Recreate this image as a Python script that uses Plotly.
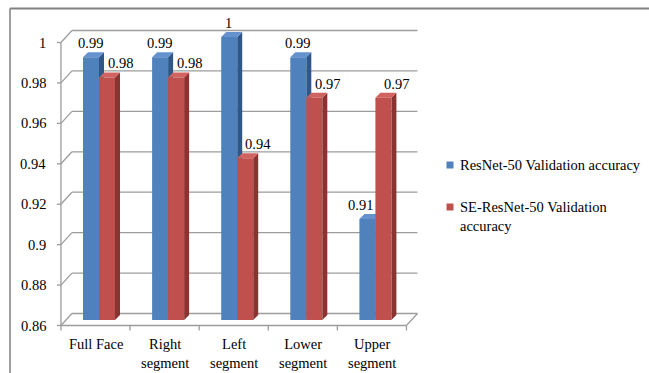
import plotly.graph_objects as go

# ---- data ----
categories = ["Full Face", "Right<br>segment", "Left<br>segment", "Lower<br>segment", "Upper<br>segment"]
series_names = ["ResNet-50 Validation accuracy", "SE-ResNet-50 Validation<br>accuracy"]
resnet_vals = [0.99, 0.99, 1.0, 0.99, 0.91]
se_resnet_vals = [0.98, 0.98, 0.94, 0.97, 0.97]
y_ticks = [0.86, 0.88, 0.90, 0.92, 0.94, 0.96, 0.98, 1.0]
y_tick_labels = ["0.86", "0.88", "0.9", "0.92", "0.94", "0.96", "0.98", "1"]
y_base = 0.86

# ---- geometry / style ----
W, H = 649, 373
XS = 69.1      # px per category
YS = 2021.4    # px per unit of accuracy
X0PX, Y0PX = 99.0, 320.0   # px position of category 0 centre / base value (bar plane)
xr = [(0 - X0PX) / XS, (W - X0PX) / XS]
yr = [y_base + (Y0PX - H) / YS, y_base + Y0PX / YS]

FX = -3.5 / XS   # front plane x offset
FY = -5.5 / YS   # front plane y offset
BX = 7.5 / XS    # back plane x offset
BY = 6.5 / YS    # back plane y offset
DX = 5.0 / XS    # bar depth
DY = 5.0 / YS
BW = 16.0 / XS   # bar width

FONT = "Liberation Serif"
FS = 14.5
GRID = "#9c9c9c"
n = len(categories)

blue = dict(front="#4f81bd", top="#6592cf", side="#2f5788")
red = dict(front="#c0504d", top="#d0625f", side="#8a3432")

shapes = []
# back wall gridlines and left diagonals
for v in y_ticks:
    shapes.append(dict(type="line", xref="x", yref="y", layer="below",
                       x0=-0.5 + BX, x1=n - 0.5 + BX, y0=v + BY, y1=v + BY,
                       line=dict(color=GRID, width=1.3)))
    shapes.append(dict(type="line", xref="x", yref="y", layer="below",
                       x0=-0.5 + FX, x1=-0.5 + BX, y0=v + FY, y1=v + BY,
                       line=dict(color=GRID, width=1.3)))
    shapes.append(dict(type="line", xref="x", yref="y", layer="below",
                       x0=-0.5 + FX - 4 / XS, x1=-0.5 + FX, y0=v + FY, y1=v + FY,
                       line=dict(color=GRID, width=1.3)))
# front y axis line
shapes.append(dict(type="line", xref="x", yref="y", layer="below",
                   x0=-0.5 + FX, x1=-0.5 + FX, y0=y_ticks[0] + FY, y1=y_ticks[-1] + FY,
                   line=dict(color=GRID, width=1.3)))
# floor front line and right diagonal
shapes.append(dict(type="line", xref="x", yref="y", layer="below",
                   x0=-0.5 + FX, x1=n - 0.5 + FX, y0=y_base + FY, y1=y_base + FY,
                   line=dict(color=GRID, width=1.3)))
shapes.append(dict(type="line", xref="x", yref="y", layer="below",
                   x0=n - 0.5 + FX, x1=n - 0.5 + BX, y0=y_base + FY, y1=y_base + BY,
                   line=dict(color=GRID, width=1.3)))
# x tick marks
for i in range(n + 1):
    shapes.append(dict(type="line", xref="x", yref="y", layer="below",
                       x0=i - 0.5 + FX, x1=i - 0.5 + FX, y0=y_base + FY, y1=y_base + FY - 5 / YS,
                       line=dict(color=GRID, width=1.3)))


def faces(vals, off, col):
    out = []
    for i, v in enumerate(vals):
        x0 = i + off
        x1 = x0 + BW
        side = (f"M {x1} {y_base} L {x1} {v} L {x1 + DX} {v + DY} "
                f"L {x1 + DX} {y_base + DY} Z")
        top = (f"M {x0} {v} L {x1} {v} L {x1 + DX} {v + DY} L {x0 + DX} {v + DY} Z")
        out.append(dict(type="path", xref="x", yref="y", layer="below", path=side,
                        fillcolor=col["side"], line=dict(width=0)))
        out.append(dict(type="path", xref="x", yref="y", layer="below", path=top,
                        fillcolor=col["top"], line=dict(width=0)))
    return out


shapes += faces(resnet_vals, -BW, blue)
shapes += faces(se_resnet_vals, 0.0, red)

# frame
shapes.append(dict(type="line", xref="paper", yref="paper", x0=10 / W, x1=1, y0=1 - 8.5 / H, y1=1 - 8.5 / H,
                   line=dict(color="#808080", width=2)))
shapes.append(dict(type="line", xref="paper", yref="paper", x0=10 / W, x1=10 / W, y0=1 - 8.5 / H, y1=0,
                   line=dict(color="#808080", width=1.5)))

# legend squares
leg_cols = [blue["front"], red["front"]]
leg_y = [165, 207]
for c, yy in zip(leg_cols, leg_y):
    shapes.append(dict(type="rect", xref="paper", yref="paper",
                       x0=446.5 / W, x1=453.5 / W, y0=1 - (yy + 3.5) / H, y1=1 - (yy - 3.5) / H,
                       fillcolor=c, line=dict(width=0)))

xs = list(range(n))
fig = go.Figure()
fig.add_trace(go.Bar(x=xs, y=[v - y_base for v in resnet_vals], base=y_base,
                     offset=-BW, width=BW, marker=dict(color=blue["front"], line=dict(width=0)),
                     name=series_names[0], showlegend=False))
fig.add_trace(go.Bar(x=xs, y=[v - y_base for v in se_resnet_vals], base=y_base,
                     offset=0.0, width=BW, marker=dict(color=red["front"], line=dict(width=0)),
                     name=series_names[1], showlegend=False))

ann = []
for v, t in zip(y_ticks, y_tick_labels):
    ann.append(dict(x=-0.5 + FX - 13 / XS, y=v + FY, xref="x", yref="y", text=t, showarrow=False,
                    xanchor="right", yanchor="middle", font=dict(family=FONT, size=FS, color="black")))
for i, c in enumerate(categories):
    ann.append(dict(x=i + FX, y=y_base + FY - 8 / YS, xref="x", yref="y", text=c, showarrow=False,
                    xanchor="center", yanchor="top", align="center",
                    font=dict(family=FONT, size=FS, color="black")))
for i, v in enumerate(resnet_vals):
    shift = -7 if v < se_resnet_vals[i] else -1
    ann.append(dict(x=i - BW / 2, y=v, xref="x", yref="y", text=f"{v:g}", showarrow=False,
                    xanchor="center", yanchor="middle", yshift=14, xshift=shift,
                    font=dict(family=FONT, size=FS, color="black")))
for i, v in enumerate(se_resnet_vals):
    ann.append(dict(x=i + BW / 2, y=v, xref="x", yref="y", text=f"{v:g}", showarrow=False,
                    xanchor="center", yanchor="middle", yshift=14, xshift=13,
                    font=dict(family=FONT, size=FS, color="black")))
ann.append(dict(x=458 / W, y=1 - 165 / H, xref="paper", yref="paper", text=series_names[0],
                showarrow=False, xanchor="left", yanchor="middle",
                font=dict(family=FONT, size=FS, color="black")))
ann.append(dict(x=458 / W, y=1 - 197 / H, xref="paper", yref="paper", text=series_names[1],
                showarrow=False, xanchor="left", yanchor="top", align="left",
                font=dict(family=FONT, size=FS, color="black")))
ann.append(dict(x=0.5 / W, y=1 - 7 / H, xref="paper", yref="paper", text="c.",
                showarrow=False, xanchor="left", yanchor="bottom",
                font=dict(family=FONT, size=22, color="black")))

fig.update_layout(
    width=W, height=H, margin=dict(l=0, r=0, t=0, b=0),
    paper_bgcolor="white", plot_bgcolor="white",
    barmode="overlay",
    xaxis=dict(range=xr, visible=False, fixedrange=True),
    yaxis=dict(range=yr, visible=False, fixedrange=True),
    shapes=shapes, annotations=ann, showlegend=False,
)
fig.write_html("out.html", config={"displayModeBar": False},
               post_script="document.body.style.margin='0';document.body.style.overflow='hidden';")
